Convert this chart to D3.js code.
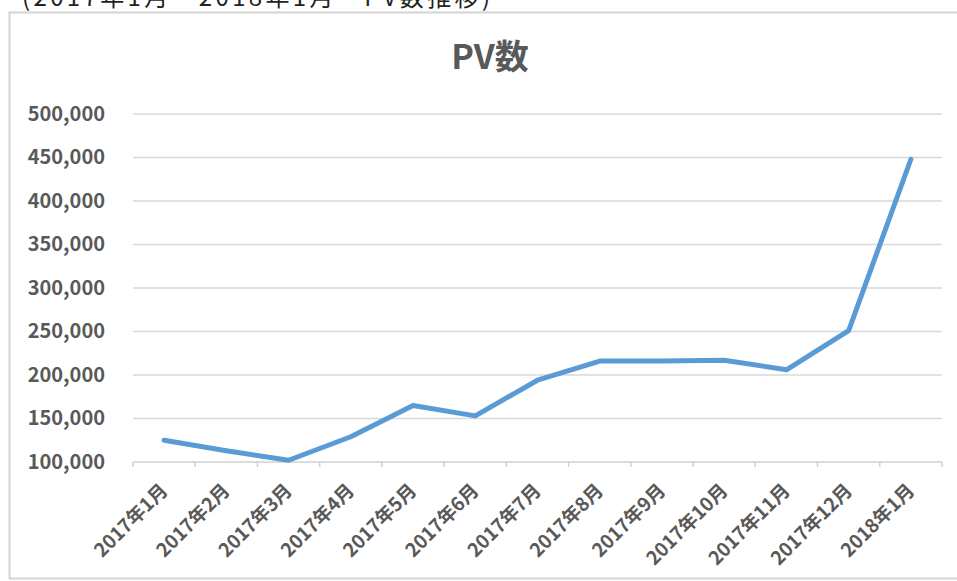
<!DOCTYPE html>
<html><head><meta charset="utf-8">
<script src="https://cdn.jsdelivr.net/npm/d3@7"></script>
<style>body{margin:0;background:#fff;}svg{display:block;}</style>
</head><body>
<svg id="c" width="957" height="581"></svg>
<script>
const categories = ["2017年1月","2017年2月","2017年3月","2017年4月","2017年5月","2017年6月","2017年7月","2017年8月","2017年9月","2017年10月","2017年11月","2017年12月","2018年1月"];
const pvValues = [125000,113000,102000,129000,165000,153000,194000,216000,216000,217000,206000,251000,448000];
const yTicks = [100000,150000,200000,250000,300000,350000,400000,450000,500000];
const titleText = "PV数";
const captionText = "(2017年1月～2018年1月　PV数推移)";

(function(){
const svg = d3.select("#c");
const font = "'Noto Sans CJK JP','Noto Sans',sans-serif";
const pLeft = 133, pRight = 942, pTop = 114, pBottom = 462;

svg.append("text").attr("x",22).attr("y",6).attr("font-family",font).attr("font-size",24)
  .attr("textLength",468).attr("lengthAdjust","spacing")
  .attr("fill","#222").text(captionText);
svg.append("rect").attr("x",9.5).attr("y",12.5).attr("width",960).attr("height",566)
  .attr("fill","#fff").attr("stroke","#d4d4d4").attr("stroke-width",2);

const x = d3.scaleBand().domain(categories).range([pLeft,pRight]);
const y = d3.scaleLinear().domain([100000,500000]).range([pBottom,pTop]);

svg.append("text").attr("x",490).attr("y",69).attr("text-anchor","middle")
  .attr("font-family",font).attr("font-weight","bold").attr("font-size",34).attr("fill","#595959").text(titleText);

const grid = svg.append("g");
grid.selectAll("line").data(yTicks.filter(d=>d>100000)).join("line")
  .attr("x1",pLeft).attr("x2",pRight).attr("y1",d=>y(d)).attr("y2",d=>y(d))
  .attr("stroke","#d9d9d9").attr("stroke-width",1.5);

const yAxis = svg.append("g").attr("transform",`translate(${pLeft},0)`)
  .call(d3.axisLeft(y).tickValues(yTicks).tickFormat(d3.format(",")).tickSize(0).tickPadding(28));
yAxis.select(".domain").remove();
yAxis.selectAll("text").attr("font-family",font).attr("font-size",20).attr("font-weight","bold").attr("fill","#595959");

const xg = svg.append("g").attr("transform",`translate(0,${pBottom})`);
xg.append("line").attr("x1",pLeft).attr("x2",pRight).attr("stroke","#d0d0d0").attr("stroke-width",1.5);
const edges = categories.map(c=>x(c)).concat([pRight]);
xg.selectAll(".tk").data(edges).join("line").attr("class","tk")
  .attr("x1",d=>d).attr("x2",d=>d).attr("y1",0).attr("y2",5).attr("stroke","#d0d0d0").attr("stroke-width",1.5);
xg.selectAll(".lb").data(categories).join("text").attr("class","lb")
  .attr("transform",d=>`translate(${x(d)+x.bandwidth()/2},${25}) rotate(-45)`)
  .attr("text-anchor","end").attr("dy","0.35em")
  .attr("font-family",font).attr("font-size",19).attr("font-weight","bold").attr("fill","#595959")
  .text(d=>d);

const line = d3.line().x((d,i)=>x(categories[i])+x.bandwidth()/2).y(d=>y(d));
svg.append("path").datum(pvValues).attr("d",line).attr("fill","none")
  .attr("stroke","#5b9bd5").attr("stroke-width",5).attr("stroke-linejoin","round").attr("stroke-linecap","round");
})();
</script>
</body></html>
